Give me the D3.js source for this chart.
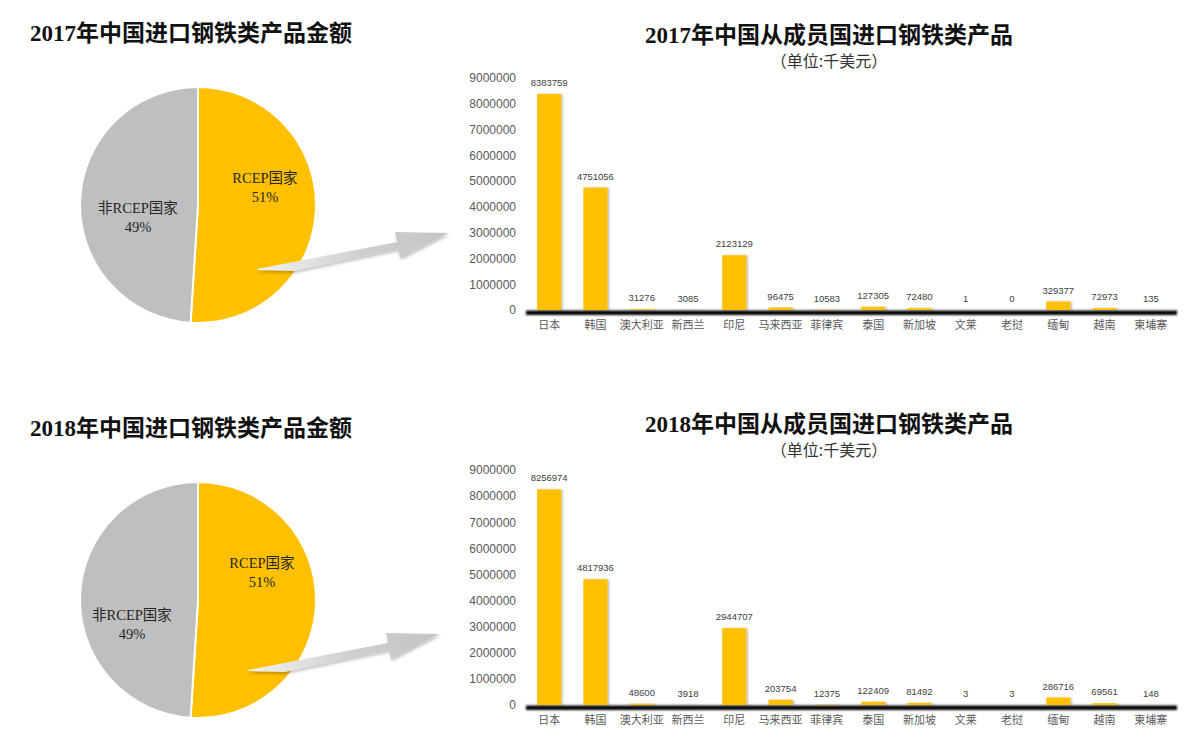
<!DOCTYPE html>
<html>
<head>
<meta charset="utf-8">
<script src="https://cdn.jsdelivr.net/npm/d3@7/dist/d3.min.js"></script>
<style>
  html, body { margin: 0; padding: 0; background: #fff; }
  svg { display: block; }
</style>
</head>
<body>
<svg id="chart" width="1186" height="745"></svg>
<script>
// ---------------- data ----------------
const categories = ["日本","韩国","澳大利亚","新西兰","印尼","马来西亚","菲律宾","泰国","新加坡","文莱","老挝","缅甸","越南","柬埔寨"];
const values2017 = [8383759,4751056,31276,3085,2123129,96475,10583,127305,72480,1,0,329377,72973,135];
const values2018 = [8256974,4817936,48600,3918,2944707,203754,12375,122409,81492,3,3,286716,69561,148];
const yTicks = [0,1000000,2000000,3000000,4000000,5000000,6000000,7000000,8000000,9000000];
const pieNames = ["RCEP国家","非RCEP国家"];
const pie2017 = [51,49];
const pie2018 = [51,49];
const pieTitles = ["2017年中国进口钢铁类产品金额","2018年中国进口钢铁类产品金额"];
const barTitles = ["2017年中国从成员国进口钢铁类产品","2018年中国从成员国进口钢铁类产品"];
const unitLabel = "（单位:千美元）";

// ---------------- drawing ----------------
const svg = d3.select("#chart");
const defs = svg.append("defs");

const barShadow = defs.append("filter").attr("id","barShadow").attr("x","-30%").attr("y","-10%").attr("width","160%").attr("height","120%");
barShadow.append("feDropShadow").attr("dx",1.2).attr("dy",0.5).attr("stdDeviation",0.9).attr("flood-color","#000").attr("flood-opacity",0.35);

const blur1 = defs.append("filter").attr("id","blur1").attr("x","-5%").attr("y","-200%").attr("width","110%").attr("height","500%");
blur1.append("feGaussianBlur").attr("stdDeviation",0.8);

const arrowShadow = defs.append("filter").attr("id","arrowShadow").attr("x","-20%").attr("y","-50%").attr("width","140%").attr("height","200%");
arrowShadow.append("feDropShadow").attr("dx",1).attr("dy",2).attr("stdDeviation",1.5).attr("flood-color","#000").attr("flood-opacity",0.25);

const grad = defs.append("linearGradient").attr("id","arrowGrad").attr("x1","0%").attr("y1","0%").attr("x2","100%").attr("y2","0%");
grad.append("stop").attr("offset","0%").attr("stop-color","#f2f2f2");
grad.append("stop").attr("offset","55%").attr("stop-color","#cfcfcf");
grad.append("stop").attr("offset","100%").attr("stop-color","#c4c4c4");

const serifCJK = "'Liberation Serif','Times New Roman','Noto Sans CJK SC',serif";
const cjk = "'Noto Sans CJK SC',sans-serif";

function drawPie(cx, cy, r, values, title, titleY, lab) {
  svg.append("text").attr("x",30).attr("y",titleY)
    .attr("font-family",serifCJK).attr("font-weight","bold").attr("font-size",23)
    .attr("fill","#111").text(title);
  const pie = d3.pie().sort(null).value(d => d)(values);
  const arc = d3.arc().innerRadius(0).outerRadius(r);
  const colors = ["#FFC000","#BFBFBF"];
  const g = svg.append("g").attr("transform",`translate(${cx},${cy})`);
  g.selectAll("path").data(pie).join("path")
    .attr("d",arc).attr("fill",(d,i)=>colors[i])
    .attr("stroke","#fff").attr("stroke-width",2);
  pie.forEach((d,i)=>{
    const t = svg.append("text").attr("text-anchor","middle")
      .attr("font-family",serifCJK).attr("font-size",14.5).attr("fill","#262626");
    t.append("tspan").attr("x",lab[i][0]).attr("y",lab[i][1]).text(pieNames[i]);
    t.append("tspan").attr("x",lab[i][0]).attr("y",lab[i][1]+19).text(values[i] + "%");
  });
}

function drawArrow(tx, ty) {
  const pts = [[0,0],[140,-27],[138,-37],[191,-36],[143,-11],[141,-20],[36,2],[0,1]];
  svg.append("path")
    .attr("transform",`translate(${tx},${ty})`)
    .attr("d", d3.line()(pts) + "Z")
    .attr("fill","url(#arrowGrad)")
    .attr("filter","url(#arrowShadow)");
}

function drawBar(values, title, titleY, yTop, yBottom) {
  const x = d3.scaleBand().domain(categories).range([526,1174]).paddingInner(0.48).paddingOuter(0.24);
  const y = d3.scaleLinear().domain([0,9000000]).range([yBottom, yTop]);

  svg.append("text").attr("x",829).attr("y",titleY).attr("text-anchor","middle")
    .attr("font-family",serifCJK).attr("font-weight","bold").attr("font-size",23)
    .attr("fill","#111").text(title);
  svg.append("text").attr("x",829).attr("y",titleY+24).attr("text-anchor","middle")
    .attr("font-family",cjk).attr("font-size",16)
    .attr("fill","#333").text(unitLabel);

  // frame
  const frameTop = yTop + 6;
  svg.append("line").attr("x1",526.5).attr("x2",526.5).attr("y1",frameTop+2).attr("y2",yBottom)
    .attr("stroke","#a0a0a0").attr("stroke-width",1.6).attr("filter","url(#blur1)");
  svg.append("line").attr("x1",1176).attr("x2",1176).attr("y1",frameTop).attr("y2",yBottom)
    .attr("stroke","#9a9a9a").attr("stroke-width",2.2).attr("filter","url(#blur1)");
  svg.append("rect").attr("x",526).attr("y",yBottom+0.5).attr("width",651).attr("height",4.5)
    .attr("fill","#000").attr("filter","url(#blur1)");

  // y axis
  const yAxis = d3.axisLeft(y).tickValues(yTicks).tickFormat(d3.format("d")).tickSize(0).tickPadding(10);
  const ya = svg.append("g").attr("transform","translate(526,0)").call(yAxis);
  ya.select(".domain").remove();
  ya.selectAll("text").attr("font-family","'Liberation Sans',sans-serif").attr("font-size",12).attr("fill","#595959");

  // x axis labels
  const xAxis = d3.axisBottom(x).tickSize(0).tickPadding(10);
  const xa = svg.append("g").attr("transform",`translate(0,${yBottom+1})`).call(xAxis);
  xa.select(".domain").remove();
  xa.selectAll("text").attr("font-family",cjk).attr("font-size",11).attr("fill","#595959");

  // bars
  svg.append("g").selectAll("rect").data(values).join("rect")
    .attr("x",(d,i)=>x(categories[i]))
    .attr("width",x.bandwidth())
    .attr("y",d=>y(d))
    .attr("height",d=>Math.max(0, y(0)-y(d)))
    .attr("fill","#FFC000")
    .attr("filter","url(#barShadow)");

  // value labels
  svg.append("g").selectAll("text").data(values).join("text")
    .attr("x",(d,i)=>x(categories[i])+x.bandwidth()/2)
    .attr("y",d=>y(d)-8)
    .attr("text-anchor","middle")
    .attr("font-family","'Liberation Sans',sans-serif").attr("font-size",9.5)
    .attr("fill","#404040")
    .text(d=>d);
}

drawPie(198, 205, 118, pie2017, pieTitles[0], 41, [[265,183],[138,213]]);
drawPie(198, 600, 118, pie2018, pieTitles[1], 436, [[262,568],[132,620]]);
drawArrow(257, 269);
drawArrow(248, 670);
drawBar(values2017, barTitles[0], 43, 78, 310);
drawBar(values2018, barTitles[1], 432, 470, 705);
</script>
</body>
</html>
